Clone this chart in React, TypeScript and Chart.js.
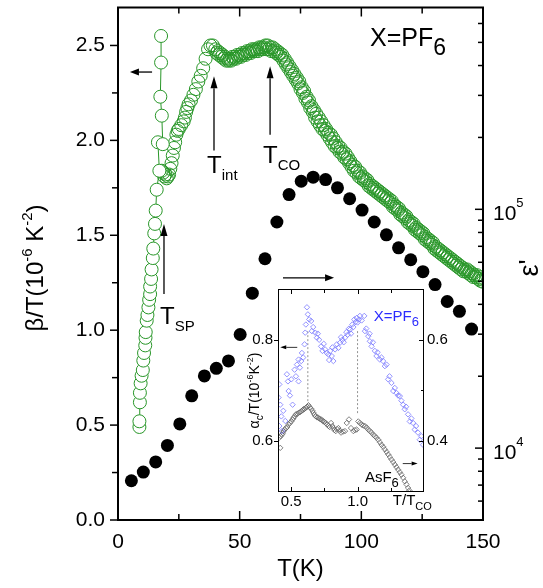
import React, { useEffect, useRef } from 'react';
import { Chart, registerables } from 'chart.js';
Chart.register(...registerables);

const FAM = '"Liberation Sans", Arial, Helvetica, sans-serif';
const GREEN = 'rgb(40,150,40)';

// ---------- main panel data ----------
const xTickLabels = [0, 50, 100, 150];
const yTickLabels = [0, 0.5, 1.0, 1.5, 2.0, 2.5];

// beta/T, steep low-temperature branch (connected)
const lowT = [8.8, 8.8, 9.0, 9.0, 9.3, 9.7, 10.2, 10.4, 10.7, 11.2, 11.3, 11.4, 11.8, 12.1, 12.5, 12.8, 13.2, 13.2, 13.6, 13.8, 14.3, 14.5, 14.9, 15.2, 15.5, 15.9, 17.0, 16.4, 18.4, 18.0, 17.4, 17.7, 17.7];
const lowBeta = [0.49, 0.52, 0.62, 0.67, 0.72, 0.76, 0.79, 0.84, 0.88, 0.92, 0.96, 0.99, 1.05, 1.08, 1.12, 1.16, 1.19, 1.23, 1.27, 1.32, 1.38, 1.43, 1.51, 1.56, 1.63, 1.74, 1.84, 1.99, 1.98, 2.13, 2.23, 2.41, 2.55];

// beta/T, main curve, run 1
const bandT = [18, 18.6, 19, 19.5, 20, 20.5, 21, 21.5, 22, 22.5, 23, 23.5, 24, 24.5, 25, 26, 27, 27.5, 28, 28.5, 29, 30, 31, 32, 33, 34, 35, 36, 37, 38, 39, 40, 41, 42, 43, 44, 45, 46, 47, 48, 49, 50, 51, 52, 53, 54, 55, 56, 57, 58, 59, 60, 61, 62, 63, 64, 65, 66, 67, 68, 69, 70, 71, 72, 73, 74, 75, 76, 77, 78, 79, 80, 81, 82, 83, 84, 85, 86, 87, 88, 89, 90, 91, 92, 93, 94, 95, 96, 97, 98, 99, 100, 101, 102, 103, 104, 105, 106, 107, 108, 109, 110, 111, 112, 113, 114, 115, 116, 117, 118, 119, 120, 121, 122, 123, 124, 125, 126, 127, 128, 129, 130, 131, 132, 133, 134, 135, 136, 137, 138, 139, 140, 141, 142, 143, 144, 145, 146, 147, 148, 149, 150];
const bandBeta = [1.84, 1.83, 1.81, 1.82, 1.80, 1.81, 1.82, 1.85, 1.88, 1.92, 1.96, 1.99, 2.03, 2.05, 2.06, 2.08, 2.10, 2.12, 2.15, 2.17, 2.19, 2.21, 2.24, 2.27, 2.31, 2.34, 2.38, 2.43, 2.48, 2.50, 2.50, 2.48, 2.47, 2.46, 2.45, 2.44, 2.43, 2.43, 2.44, 2.44, 2.45, 2.45, 2.46, 2.46, 2.47, 2.47, 2.48, 2.48, 2.48, 2.49, 2.49, 2.49, 2.48, 2.48, 2.47, 2.47, 2.46, 2.45, 2.44, 2.42, 2.40, 2.38, 2.36, 2.34, 2.32, 2.30, 2.27, 2.25, 2.22, 2.20, 2.17, 2.15, 2.12, 2.10, 2.08, 2.06, 2.05, 2.03, 2.01, 1.99, 1.97, 1.96, 1.94, 1.93, 1.91, 1.90, 1.88, 1.86, 1.84, 1.83, 1.81, 1.80, 1.79, 1.78, 1.76, 1.75, 1.74, 1.73, 1.72, 1.71, 1.70, 1.69, 1.68, 1.67, 1.65, 1.64, 1.63, 1.61, 1.60, 1.59, 1.57, 1.56, 1.55, 1.53, 1.52, 1.51, 1.50, 1.48, 1.47, 1.46, 1.45, 1.43, 1.42, 1.41, 1.40, 1.39, 1.38, 1.37, 1.36, 1.35, 1.34, 1.33, 1.32, 1.31, 1.31, 1.30, 1.29, 1.28, 1.28, 1.27, 1.26, 1.255];

// beta/T, main curve, run 2 (second strand of the band)
const band2T = [40.5, 41.5, 42.5, 43.5, 44.5, 45.5, 46.5, 47.5, 48.5, 49.5, 50.5, 51.5, 52.5, 53.5, 54.5, 55.5, 56.5, 57.5, 58.5, 59.5, 60.5, 61.5, 62.5, 63.5, 64.5, 65.5, 66.5, 67.5, 68.5, 69.5, 70.5, 71.5, 72.5, 73.5, 74.5, 75.5, 76.5, 77.5, 78.5, 79.5, 80.5, 81.5, 82.5, 83.5, 84.5, 85.5, 86.5, 87.5, 88.5, 89.5, 90.5, 91.5, 92.5, 93.5, 94.5, 95.5, 96.5, 97.5, 98.5, 99.5, 100.5, 101.5, 102.5, 103.5, 104.5, 105.5, 106.5, 107.5, 108.5, 109.5, 110.5, 111.5, 112.5, 113.5, 114.5, 115.5, 116.5, 117.5, 118.5, 119.5, 120.5, 121.5, 122.5, 123.5, 124.5, 125.5, 126.5, 127.5, 128.5, 129.5, 130.5, 131.5, 132.5, 133.5, 134.5, 135.5, 136.5, 137.5, 138.5, 139.5, 140.5, 141.5, 142.5, 143.5, 144.5, 145.5, 146.5, 147.5, 148.5, 149.5];
const band2Beta = [2.46, 2.45, 2.44, 2.43, 2.42, 2.42, 2.42, 2.43, 2.43, 2.44, 2.44, 2.45, 2.45, 2.46, 2.46, 2.47, 2.47, 2.47, 2.48, 2.48, 2.50, 2.50, 2.49, 2.49, 2.48, 2.47, 2.46, 2.45, 2.43, 2.41, 2.39, 2.37, 2.35, 2.33, 2.31, 2.28, 2.26, 2.23, 2.21, 2.18, 2.16, 2.14, 2.12, 2.10, 2.08, 2.06, 2.04, 2.03, 2.01, 1.99, 1.97, 1.96, 1.94, 1.93, 1.91, 1.89, 1.87, 1.86, 1.84, 1.83, 1.81, 1.80, 1.79, 1.77, 1.76, 1.75, 1.74, 1.73, 1.72, 1.71, 1.70, 1.69, 1.68, 1.66, 1.65, 1.64, 1.62, 1.61, 1.60, 1.58, 1.57, 1.56, 1.54, 1.53, 1.52, 1.51, 1.49, 1.48, 1.47, 1.46, 1.44, 1.43, 1.42, 1.41, 1.40, 1.39, 1.38, 1.37, 1.36, 1.35, 1.34, 1.33, 1.32, 1.32, 1.31, 1.30, 1.29, 1.29, 1.28, 1.27];

// epsilon' (right, log axis)
const epsT = [5.5, 10.4, 15.5, 20.3, 25.4, 30.3, 35.5, 40.4, 45.4, 50.2, 55.2, 60.4, 65.3, 70.3, 75.3, 80.2, 85.3, 90.2, 95.2, 100.3, 105.3, 110.3, 115.3, 120.3, 125.3, 130.3, 135.3, 140.3, 145.3];
const epsVal = [7300, 7940, 8750, 10260, 12630, 16560, 20050, 21580, 23170, 29910, 44560, 62100, 88500, 115300, 131100, 136300, 133200, 123000, 110700, 99300, 88500, 78200, 69000, 61500, 54800, 48400, 41100, 37400, 31500];

// ---------- inset data ----------
const insetXTickLabels = [0.5, 1.0];
const insetLeftTickLabels = [0.6, 0.8];
const insetRightTickLabels = [0.4, 0.6];

const pf6X = [0.404, 0.41, 0.41, 0.417, 0.425, 0.43, 0.44, 0.455, 0.467, 0.475, 0.48, 0.49, 0.50, 0.51, 0.525, 0.535, 0.543, 0.555, 0.555, 0.565, 0.575, 0.58, 0.59, 0.60, 0.605, 0.61, 0.618, 0.625, 0.635, 0.65, 0.655, 0.665, 0.68, 0.693, 0.70, 0.71, 0.725, 0.735, 0.745, 0.755, 0.768, 0.78, 0.785, 0.793, 0.805, 0.81, 0.817, 0.83, 0.843, 0.855, 0.867, 0.875, 0.885, 0.895, 0.905, 0.915, 0.925, 0.935, 0.943, 0.95, 0.96, 0.968, 0.975, 0.985, 0.993, 1.0, 1.01, 1.017, 1.03, 1.05, 1.055, 1.065, 1.08, 1.09, 1.092, 1.105, 1.115, 1.13, 1.142, 1.15, 1.167, 1.18, 1.192, 1.205, 1.218, 1.23, 1.24, 1.255, 1.268, 1.28, 1.293, 1.305, 1.318, 1.33, 1.343, 1.355, 1.365, 1.38, 1.393, 1.405, 1.418, 1.43, 1.44, 1.455, 1.468, 1.48, 1.493];
const pf6Y = [0.686, 0.712, 0.630, 0.672, 0.649, 0.620, 0.660, 0.640, 0.732, 0.718, 0.699, 0.690, 0.722, 0.672, 0.741, 0.728, 0.751, 0.761, 0.718, 0.745, 0.758, 0.774, 0.765, 0.791, 0.814, 0.830, 0.864, 0.850, 0.840, 0.837, 0.817, 0.825, 0.814, 0.804, 0.812, 0.800, 0.787, 0.778, 0.792, 0.781, 0.774, 0.771, 0.760, 0.778, 0.768, 0.785, 0.758, 0.781, 0.791, 0.784, 0.794, 0.805, 0.800, 0.795, 0.804, 0.815, 0.810, 0.822, 0.820, 0.812, 0.830, 0.825, 0.840, 0.835, 0.843, 0.834, 0.840, 0.847, 0.838, 0.847, 0.817, 0.822, 0.807, 0.812, 0.797, 0.787, 0.795, 0.778, 0.768, 0.775, 0.761, 0.765, 0.758, 0.748, 0.751, 0.722, 0.728, 0.715, 0.699, 0.705, 0.695, 0.690, 0.689, 0.680, 0.672, 0.663, 0.668, 0.653, 0.639, 0.645, 0.636, 0.623, 0.630, 0.617, 0.603, 0.610, 0.593];

const asX = [0.41, 0.417, 0.42, 0.43, 0.436, 0.442, 0.45, 0.46, 0.47, 0.48, 0.49, 0.50, 0.51, 0.517, 0.525, 0.535, 0.545, 0.555, 0.565, 0.575, 0.585, 0.592, 0.60, 0.61, 0.62, 0.63, 0.64, 0.65, 0.66, 0.667, 0.675, 0.685, 0.695, 0.705, 0.715, 0.725, 0.735, 0.742, 0.75, 0.76, 0.77, 0.78, 0.79, 0.80, 0.81, 0.817, 0.825, 0.835, 0.845, 0.855, 0.865, 0.875, 0.89, 0.905, 0.918, 0.935, 0.95, 0.968, 0.98, 0.993, 1.005, 1.017, 1.03, 1.042, 1.055, 1.068, 1.08, 1.093, 1.105, 1.118, 1.13, 1.142, 1.155, 1.168, 1.18, 1.193, 1.205, 1.218, 1.23, 1.243, 1.255, 1.268, 1.28, 1.293, 1.305, 1.318, 1.33, 1.343, 1.355, 1.368, 1.38, 1.39, 1.40];
const asY = [0.407, 0.387, 0.410, 0.413, 0.416, 0.420, 0.423, 0.426, 0.428, 0.433, 0.436, 0.439, 0.443, 0.446, 0.449, 0.453, 0.454, 0.456, 0.457, 0.459, 0.461, 0.463, 0.464, 0.466, 0.468, 0.471, 0.467, 0.464, 0.460, 0.456, 0.452, 0.449, 0.447, 0.446, 0.444, 0.443, 0.441, 0.439, 0.438, 0.436, 0.433, 0.430, 0.428, 0.436, 0.430, 0.426, 0.422, 0.420, 0.424, 0.426, 0.421, 0.417, 0.419, 0.420, 0.436, 0.443, 0.426, 0.420, 0.422, 0.423, 0.439, 0.436, 0.433, 0.431, 0.430, 0.427, 0.423, 0.420, 0.417, 0.413, 0.410, 0.407, 0.403, 0.398, 0.393, 0.389, 0.384, 0.379, 0.374, 0.369, 0.364, 0.359, 0.354, 0.349, 0.344, 0.339, 0.334, 0.328, 0.321, 0.315, 0.308, 0.303, 0.298];

// dashed guide lines in the inset (T/T_CO, top, bottom in left-axis units)
const guideX = [0.625, 1.0];
const guideTop = [0.817, 0.817];
const guideBottom = [0.669, 0.652];

type Part = { t: string; size: number; dy?: number; color?: string };

function drawRich(ctx: any, parts: Part[], x: number, y: number, align: string) {
  let w = 0;
  for (const p of parts) { ctx.font = `${p.size}px ${FAM}`; w += ctx.measureText(p.t).width; }
  let cx = align === 'left' ? x : align === 'center' ? x - w / 2 : x - w;
  ctx.textAlign = 'left';
  ctx.textBaseline = 'alphabetic';
  for (const p of parts) {
    ctx.font = `${p.size}px ${FAM}`;
    ctx.fillStyle = p.color || '#000';
    ctx.fillText(p.t, cx, y + (p.dy || 0));
    cx += ctx.measureText(p.t).width;
  }
}

function drawRot(ctx: any, parts: Part[], x: number, y: number) {
  ctx.save();
  ctx.translate(x, y);
  ctx.rotate(-Math.PI / 2);
  drawRich(ctx, parts, 0, 0, 'center');
  ctx.restore();
}

function seg(ctx: any, x1: number, y1: number, x2: number, y2: number) {
  ctx.beginPath(); ctx.moveTo(x1, y1); ctx.lineTo(x2, y2); ctx.stroke();
}

function arrow(ctx: any, x1: number, y1: number, x2: number, y2: number, head: number, hw: number, lw: number) {
  const ang = Math.atan2(y2 - y1, x2 - x1);
  const bx = x2 - head * Math.cos(ang), by = y2 - head * Math.sin(ang);
  ctx.lineWidth = lw;
  seg(ctx, x1, y1, bx, by);
  ctx.beginPath();
  ctx.moveTo(x2, y2);
  ctx.lineTo(bx + hw * Math.sin(ang), by - hw * Math.cos(ang));
  ctx.lineTo(bx - hw * Math.sin(ang), by + hw * Math.cos(ang));
  ctx.closePath();
  ctx.fill();
}

function zeroPad(s: any) {
  s.paddingTop = 0; s.paddingBottom = 0; s.paddingLeft = 0; s.paddingRight = 0;
}

const mainDecor = {
  id: 'mainDecor',
  afterDraw(chart: any) {
    const { ctx, chartArea: a } = chart;
    const xs = chart.scales.x, ys = chart.scales.y, y2 = chart.scales.y2;
    ctx.save();
    ctx.strokeStyle = '#000';
    ctx.fillStyle = '#000';
    ctx.lineWidth = 2;
    ctx.strokeRect(a.left, a.top, a.right - a.left, a.bottom - a.top);
    ctx.lineWidth = 1.5;
    // x ticks (inward, top & bottom)
    for (const v of [25, 50, 75, 100, 125]) {
      const px = xs.getPixelForValue(v);
      const len = v % 50 === 0 ? 9 : 6;
      seg(ctx, px, a.bottom, px, a.bottom - len);
      seg(ctx, px, a.top, px, a.top + len);
    }
    // left ticks (outward)
    for (let i = 0; i <= 10; i++) {
      const v = i * 0.25;
      const py = ys.getPixelForValue(v);
      const len = i % 2 === 0 ? 8 : 6;
      seg(ctx, a.left - len, py, a.left, py);
    }
    // right log ticks (inward)
    for (const k of [3, 4, 5]) {
      for (let m = 1; m <= 9; m++) {
        const v = m * Math.pow(10, k);
        if (v <= 5000 || v >= 700000) continue;
        const py = y2.getPixelForValue(v);
        const len = m === 1 ? 8 : 5;
        seg(ctx, a.right - len, py, a.right, py);
      }
    }
    // right tick labels 10^4, 10^5
    for (const k of [4, 5]) {
      const py = y2.getPixelForValue(Math.pow(10, k));
      drawRich(ctx, [{ t: '10', size: 21 }, { t: String(k), size: 13, dy: -13 }], a.right + 10, py + 10.5, 'left');
    }
    // axis titles
    drawRot(ctx, [
      { t: 'β/T(10', size: 24 }, { t: '-6', size: 15, dy: -11 }, { t: ' K', size: 24 }, { t: '-2', size: 15, dy: -11 }, { t: ')', size: 24 },
    ], 43, 268);
    drawRot(ctx, [{ t: "ε'", size: 27 }], 538, 268);

    // annotations
    const X = (v: number) => xs.getPixelForValue(v);
    const Y = (v: number) => ys.getPixelForValue(v);
    arrow(ctx, X(14.0), Y(2.36), X(4.9), Y(2.36), 9, 3.5, 1.3);
    arrow(ctx, X(67.8), Y(1.276), X(88.8), Y(1.276), 9, 3.5, 1.3);
    arrow(ctx, X(39.45), Y(1.946), X(39.45), Y(2.338), 12, 3.5, 1.3);
    arrow(ctx, X(62.5), Y(2.03), X(62.5), Y(2.39), 12, 3.5, 1.3);
    arrow(ctx, X(18.9), Y(1.19), X(18.9), Y(1.56), 12, 3.5, 1.3);

    drawRich(ctx, [{ t: 'T', size: 24 }, { t: 'int', size: 15, dy: 7 }], X(36.6), Y(1.83), 'left');
    drawRich(ctx, [{ t: 'T', size: 24 }, { t: 'CO', size: 15, dy: 7 }], X(59.6), Y(1.883), 'left');
    drawRich(ctx, [{ t: 'T', size: 24 }, { t: 'SP', size: 15, dy: 7 }], X(17.3), Y(1.03), 'left');
    drawRich(ctx, [{ t: 'X=PF', size: 25 }, { t: '6', size: 23, dy: 9 }], X(103.6), Y(2.495), 'left');
    ctx.restore();
  },
};

const insetDecor = {
  id: 'insetDecor',
  beforeDraw(chart: any) {
    const { ctx, chartArea: a } = chart;
    ctx.save();
    ctx.fillStyle = '#fff';
    ctx.fillRect(a.left, a.top, a.right - a.left, a.bottom - a.top);
    ctx.restore();
  },
  beforeDatasetsDraw(chart: any) {
    const { ctx } = chart;
    const xs = chart.scales.x, ys = chart.scales.y;
    ctx.save();
    ctx.strokeStyle = '#777';
    ctx.lineWidth = 0.8;
    ctx.setLineDash([2, 2]);
    for (let i = 0; i < guideX.length; i++) {
      seg(ctx, xs.getPixelForValue(guideX[i]), ys.getPixelForValue(guideTop[i]), xs.getPixelForValue(guideX[i]), ys.getPixelForValue(guideBottom[i]));
    }
    ctx.restore();
  },
  afterDraw(chart: any) {
    const { ctx, chartArea: a } = chart;
    const xs = chart.scales.x, ys = chart.scales.y, y2 = chart.scales.y2;
    ctx.save();
    ctx.strokeStyle = '#000';
    ctx.fillStyle = '#000';
    ctx.lineWidth = 1;
    ctx.strokeRect(a.left + 0.5, a.top + 0.5, a.right - a.left - 1, a.bottom - a.top - 1);
    for (const v of [0.5, 0.75, 1.0, 1.25]) {
      const px = Math.round(xs.getPixelForValue(v)) + 0.5;
      const len = v === 0.5 || v === 1.0 ? 5 : 4;
      seg(ctx, px, a.bottom, px, a.bottom - len);
      seg(ctx, px, a.top, px, a.top + len);
    }
    for (const v of [0.6, 0.8]) {
      const py = Math.round(ys.getPixelForValue(v)) + 0.5;
      seg(ctx, a.left - 4, py, a.left, py);
    }
    for (const v of [0.4, 0.5, 0.6]) {
      const py = Math.round(y2.getPixelForValue(v)) + 0.5;
      seg(ctx, a.right - (v === 0.5 ? 3 : 5), py, a.right, py);
    }
    const X = (v: number) => xs.getPixelForValue(v);
    const Y = (v: number) => ys.getPixelForValue(v);
    arrow(ctx, X(0.545), Y(0.785), X(0.417), Y(0.785), 6, 2, 0.8);
    arrow(ctx, X(1.34), Y(0.556), X(1.452), Y(0.556), 6, 2, 0.8);
    drawRich(ctx, [{ t: 'X=PF', size: 15, color: '#2b2bff' }, { t: '6', size: 13, dy: 5, color: '#2b2bff' }], X(1.122), Y(0.836), 'left');
    drawRich(ctx, [{ t: 'AsF', size: 15 }, { t: '6', size: 13, dy: 5 }], X(1.055), Y(0.519), 'left');
    drawRich(ctx, [{ t: 'T/T', size: 15 }, { t: 'CO', size: 11, dy: 5 }], X(1.265), a.bottom + 13, 'left');
    drawRot(ctx, [
      { t: 'α', size: 14 }, { t: 'c', size: 10, dy: 4 }, { t: '/T(10', size: 14 }, { t: '-6', size: 9, dy: -6 }, { t: 'K', size: 14 }, { t: '-2', size: 9, dy: -6 }, { t: ')', size: 14 },
    ], 23, Y(0.7));
    ctx.restore();
  },
};

const tickFont = { family: FAM, size: 21 };

export default function App() {
  const mainRef = useRef<HTMLCanvasElement | null>(null);
  const insetRef = useRef<HTMLCanvasElement | null>(null);

  useEffect(() => {
    const bandStyle = {
      showLine: false,
      pointRadius: 6.5,
      pointBorderWidth: 1,
      pointBorderColor: GREEN,
      pointBackgroundColor: 'rgba(255,255,255,0)',
      yAxisID: 'y',
    };
    const main = new Chart(mainRef.current as HTMLCanvasElement, {
      type: 'scatter',
      data: {
        datasets: [
          {
            data: lowT.map((t, i) => ({ x: t, y: lowBeta[i] })),
            showLine: true,
            borderColor: GREEN,
            borderWidth: 1,
            pointRadius: 6.5,
            pointBorderWidth: 1,
            pointBorderColor: GREEN,
            pointBackgroundColor: '#fff',
            yAxisID: 'y',
          },
          { data: bandT.map((t, i) => ({ x: t, y: bandBeta[i] })), ...bandStyle },
          { data: band2T.map((t, i) => ({ x: t, y: band2Beta[i] })), ...bandStyle },
          {
            data: epsT.map((t, i) => ({ x: t, y: epsVal[i] })),
            showLine: false,
            pointRadius: 6.5,
            pointBorderWidth: 0,
            pointBackgroundColor: '#000',
            pointBorderColor: '#000',
            yAxisID: 'y2',
          },
        ],
      },
      options: {
        animation: false,
        responsive: false,
        maintainAspectRatio: false,
        events: [],
        layout: { padding: { top: 4, left: 0, right: 0, bottom: 0 } },
        plugins: { legend: { display: false }, tooltip: { enabled: false } },
        scales: {
          x: {
            type: 'linear', position: 'bottom', min: 0, max: 150,
            afterBuildTicks: (s: any) => { s.ticks = xTickLabels.map((v) => ({ value: v })); },
            ticks: { font: tickFont, color: '#000', padding: 10, maxRotation: 0, autoSkip: false },
            grid: { display: false, drawTicks: false },
            border: { display: false },
            title: { display: true, text: 'T(K)', color: '#000', font: { family: FAM, size: 24 }, padding: { top: 0, bottom: 4 } },
            afterFit: (s: any) => { s.height = 68; zeroPad(s); },
          },
          y: {
            type: 'linear', position: 'left', min: 0, max: 2.7,
            afterBuildTicks: (s: any) => { s.ticks = yTickLabels.map((v) => ({ value: v })); },
            ticks: { font: tickFont, color: '#000', padding: 13, callback: (v: any) => Number(v).toFixed(1) },
            grid: { display: false, drawTicks: false },
            border: { display: false },
            afterFit: (s: any) => { s.width = 118; zeroPad(s); },
          },
          y2: {
            type: 'logarithmic', position: 'right', min: 5000, max: 700000,
            ticks: { display: false },
            grid: { display: false, drawTicks: false },
            border: { display: false },
            afterFit: (s: any) => { s.width = 60; zeroPad(s); },
          },
        },
      } as any,
      plugins: [mainDecor],
    });

    const inset = new Chart(insetRef.current as HTMLCanvasElement, {
      type: 'scatter',
      data: {
        datasets: [
          {
            data: pf6X.map((v, i) => ({ x: v, y: pf6Y[i] })),
            pointStyle: 'rectRot',
            pointRadius: 2.7,
            pointBorderWidth: 0.8,
            pointBorderColor: 'rgb(120,120,255)',
            pointBackgroundColor: 'rgba(255,255,255,0)',
            yAxisID: 'y',
          },
          {
            data: asX.map((v, i) => ({ x: v, y: asY[i] })),
            pointStyle: 'rectRot',
            pointRadius: 2.7,
            pointBorderWidth: 0.8,
            pointBorderColor: 'rgb(100,100,100)',
            pointBackgroundColor: 'rgba(255,255,255,0)',
            yAxisID: 'y2',
          },
        ],
      },
      options: {
        animation: false,
        responsive: false,
        maintainAspectRatio: false,
        events: [],
        layout: { padding: { top: 9, left: 0, right: 0, bottom: 0 } },
        plugins: { legend: { display: false }, tooltip: { enabled: false } },
        scales: {
          x: {
            type: 'linear', min: 0.4, max: 1.5,
            afterBuildTicks: (s: any) => { s.ticks = insetXTickLabels.map((v) => ({ value: v })); },
            ticks: { font: { family: FAM, size: 15 }, color: '#000', padding: 1, maxRotation: 0, autoSkip: false, callback: (v: any) => Number(v).toFixed(1) },
            grid: { display: false, drawTicks: false },
            border: { display: false },
            afterFit: (s: any) => { s.height = 23; zeroPad(s); },
          },
          y: {
            type: 'linear', position: 'left', min: 0.5, max: 0.9,
            afterBuildTicks: (s: any) => { s.ticks = insetLeftTickLabels.map((v) => ({ value: v })); },
            ticks: { font: { family: FAM, size: 15 }, color: '#000', padding: 5, callback: (v: any) => Number(v).toFixed(1) },
            grid: { display: false, drawTicks: false },
            border: { display: false },
            afterFit: (s: any) => { s.width = 42; zeroPad(s); },
          },
          y2: {
            type: 'linear', position: 'right', min: 0.3, max: 0.7,
            afterBuildTicks: (s: any) => { s.ticks = insetRightTickLabels.map((v) => ({ value: v })); },
            ticks: { font: { family: FAM, size: 15 }, color: '#000', padding: 3, callback: (v: any) => Number(v).toFixed(1) },
            grid: { display: false, drawTicks: false },
            border: { display: false },
            afterFit: (s: any) => { s.width = 44; zeroPad(s); },
          },
        },
      } as any,
      plugins: [insetDecor],
    });

    return () => { main.destroy(); inset.destroy(); };
  }, []);

  return (
    <div style={{ position: 'fixed', left: 0, top: 0, width: 543, height: 588, background: '#fff' }}>
      <canvas ref={mainRef} width={543} height={588} style={{ position: 'absolute', left: 0, top: 0, width: 543, height: 588 }} />
      <canvas ref={insetRef} width={232} height={235} style={{ position: 'absolute', left: 236, top: 280, width: 232, height: 235 }} />
    </div>
  );
}
